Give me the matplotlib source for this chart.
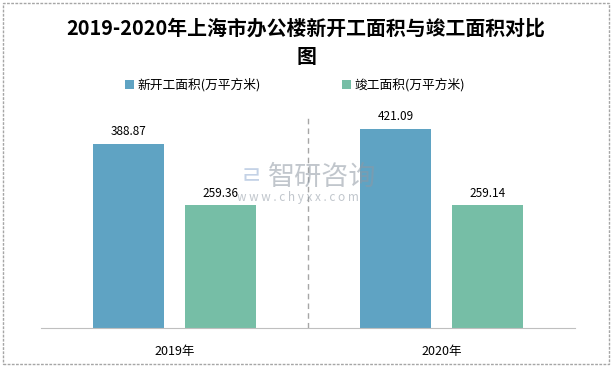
import matplotlib.pyplot as plt
from matplotlib.patches import Rectangle

plt.rcParams['font.family'] = ['Noto Sans CJK SC', 'DejaVu Sans']

years = ['2019年', '2020年']
new_started = [388.87, 421.09]
completed = [259.36, 259.14]
series_names = ['新开工面积(万平方米)', '竣工面积(万平方米)']

blue = '#5FA3C3'
green = '#76BEA6'

fig = plt.figure(figsize=(6.12, 3.67), dpi=100)
ax = fig.add_axes([41 / 612, 39 / 367, 534 / 612, 236.5 / 367])

x = range(len(years))
w = 0.266
off = 0.171
b1 = ax.bar([i - off for i in x], new_started, w, color=blue, label=series_names[0])
b2 = ax.bar([i + off for i in x], completed, w, color=green, label=series_names[1])

for bars in (b1, b2):
    for r in bars:
        ax.text(r.get_x() + r.get_width() / 2, r.get_height() + 12, f'{r.get_height():.2f}',
                ha='center', va='bottom', fontsize=8.5)

ax.set_xlim(-0.5, 1.5)
ax.set_ylim(0, 500)
ax.set_xticks(list(x))
ax.set_xticklabels(years, fontsize=9)
ax.tick_params(axis='x', length=0, pad=12)
ax.set_yticks([])
for s in ['left', 'right', 'top']:
    ax.spines[s].set_visible(False)
ax.spines['bottom'].set_color('#BFBFBF')

# separator between the two years
ax.plot([0.5, 0.5], [0, 450], color='#A6A6A6', linestyle=(0, (4, 3)), linewidth=1, clip_on=False)

fig.text(0.5, 0.884, '2019-2020年上海市办公楼新开工面积与竣工面积对比\n图', ha='center', va='center',
         fontsize=14.3, fontweight='bold', linespacing=1.45)

fig.legend(handles=[b1, b2], loc='center', bbox_to_anchor=(0.482, 0.768), ncol=2, frameon=False,
           fontsize=9.2, handlelength=0.7, handleheight=0.7, handletextpad=0.3, columnspacing=6.3)

# watermark
fig.text(268 / 612, 1 - 177 / 367, '智研咨询', fontsize=19.5, color='#8E98A3', alpha=0.55, va='center')
fig.text(237 / 612, 1 - 197 / 367, 'w w w . c h y x x . c o m', fontsize=8.5, color='#8E98A3', alpha=0.55, va='center')
fig.text(240 / 612, 1 - 177 / 367, 'ㄹ', fontsize=18, color='#9DB5D6', alpha=0.6, va='center')

fig.patches.append(Rectangle((0.005, 0.008), 0.99, 0.984, transform=fig.transFigure,
                             fill=False, edgecolor='#A6A6A6', linewidth=1, linestyle=(0, (2, 1))))

fig.savefig('out.png', dpi=100)
